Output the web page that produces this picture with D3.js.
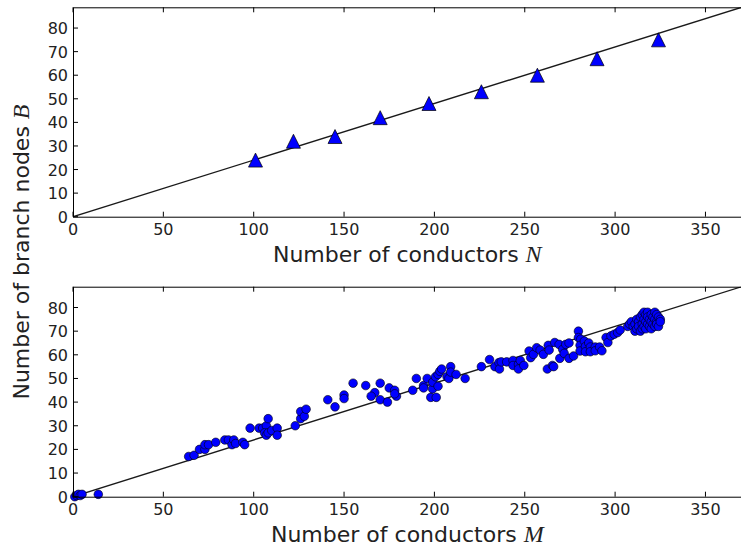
<!DOCTYPE html>
<html><head><meta charset="utf-8">
<script src="https://cdn.jsdelivr.net/npm/d3@7"></script>
<style>body{margin:0;background:#fff}svg{display:block}</style>
</head><body>
<svg id="c" width="741" height="548"></svg>
<script>
// ---- data ----
const topN = [101, 122, 145, 170, 197, 226, 257, 290, 324];
const topB = [24, 32, 34, 42, 48, 53, 60, 67, 75];

const botM = [1,2,3,4,5,14,
 64,67,70,73,73,75,79,84,86,88,89,90,94,95,
 98,103,105,107,108,106,107,108,110,113,113,
 123,126,126,128,129,
 141,145,150,150,155,162,167,165,170,170,174,175,178,179,178,
 188,190,194,194,196,198,201,199,199,200.6,202,202,203,204,207,208,209,209,212,217,
 226,230.5,233.5,235.7,236,237,240,243.5,243.5,246.5,246.5,247.5,249.5,252.4,253.3,254.8,256.6,258.5,260.3,262.5,265.3,266,263,263.5,266.6,269,271,272.7,274.5,269.4,271.8,274.5,277,279.7,279.7,281,280.6,280.6,283,283.6,283.6,285.4,286.3,286.3,289,289,291.4,292.7,295,296,297.7,299.5,301.4,302.8,
 307,308,309,310,311,311,312,312,313,313,314,314,315,315,315,316,316,316,317,317,317,318,318,318,319,319,320,320,320,321,321,322,322,322,323,323,323,324,324,325,325];
const botB = [0,0.5,1,0.5,1,1,
 17,17.5,20,20,22,22,23,24,24,22,24,22.5,23,22,
 29,29,29,30,33,27,26,27,28,29,26,
 30,33,36,34,37,
 41,38,43,41.5,48,47,44,42.5,48,41,40,46,45,42.5,43.5,
 45,50,47,46,50,42,42,45.6,48.4,50.7,46.7,51.7,53,54,50.7,50,55,52.7,51.7,50,
 55,58,55,56.7,54,57,57,57.6,55.5,56,54,57.6,55.5,61.6,58.8,60.2,63,62,60.2,54,55.5,55,64,62,65.2,64.4,62.3,64.4,65,58.5,60.6,58.5,59.5,70,67.3,66.6,64,61.6,65.8,63.5,61.3,65,63.3,61.3,63.3,61.7,63.3,61.7,67.3,65.2,68,68.7,69.4,70.5,
 72,73,74,72,73,70,71,75,74,72,76,70,77,73,71,78,75,72,77,74,71,78,76,73,75,72,77,74,71,76,73,78,75,72,77,74,73,76,72,75,74];

const xTicks = [0, 50, 100, 150, 200, 250, 300, 350];
const yTicks = [0, 10, 20, 30, 40, 50, 60, 70, 80];
const xMax = 370, yMax = 88.8, slope = 0.24;

// ---- drawing ----
const svg = d3.select("#c");
const L = 73, R = 741.6;
const x = d3.scaleLinear().domain([0, xMax]).range([L, R]);
const tf = "'DejaVu Sans', sans-serif";

function panel(top, bottom, pts, marker, labelVar) {
  const y = d3.scaleLinear().domain([0, yMax]).range([bottom, top]);
  const g = svg.append("g");
  const id = "clip" + Math.round(top);
  svg.append("clipPath").attr("id", id).append("rect")
    .attr("x", L).attr("y", top).attr("width", R - L).attr("height", bottom - top);

  g.append("line").attr("clip-path", `url(#${id})`)
    .attr("x1", x(0)).attr("y1", y(0)).attr("x2", x(xMax)).attr("y2", y(slope * xMax))
    .attr("stroke", "#1a1a1a").attr("stroke-width", 1.4);

  const mg = g.append("g");
  if (marker === "tri") {
    mg.selectAll("path").data(pts).enter().append("path")
      .attr("d", "M0,-7L7,7L-7,7Z")
      .attr("transform", d => `translate(${x(d[0])},${y(d[1])})`)
      .attr("fill", "#0000ff").attr("stroke", "#000").attr("stroke-width", 0.7);
  } else {
    mg.selectAll("circle").data(pts).enter().append("circle")
      .attr("cx", d => x(d[0])).attr("cy", d => y(d[1])).attr("r", 4.3)
      .attr("fill", "#0000ff").attr("stroke", "#000").attr("stroke-width", 0.6);
  }

  const ax = g.append("g").attr("fill", "none").attr("stroke", "#000").attr("stroke-width", 1);
  ax.append("rect").attr("x", L + 0.5).attr("y", top + 0.5).attr("width", R - L).attr("height", bottom - top);
  xTicks.forEach(t => {
    ax.append("line").attr("x1", x(t)).attr("x2", x(t)).attr("y1", bottom).attr("y2", bottom - 5);
    ax.append("line").attr("x1", x(t)).attr("x2", x(t)).attr("y1", top).attr("y2", top + 5);
  });
  yTicks.forEach(t => {
    ax.append("line").attr("x1", L).attr("x2", L + 5).attr("y1", y(t)).attr("y2", y(t));
  });
  g.selectAll(".xt").data(xTicks).enter().append("text")
    .attr("x", d => x(d)).attr("y", bottom + 18).attr("text-anchor", "middle")
    .attr("font-family", tf).attr("font-size", 16).attr("fill", "#222").text(d => d);
  g.selectAll(".yt").data(yTicks).enter().append("text")
    .attr("x", L - 5).attr("y", d => y(d) + 6).attr("text-anchor", "end")
    .attr("font-family", tf).attr("font-size", 16).attr("fill", "#222").text(d => d);

  const lab = g.append("text").attr("x", (L + R) / 2).attr("y", bottom + 45.5)
    .attr("text-anchor", "middle").attr("font-family", tf).attr("font-size", 22).attr("fill", "#222");
  lab.append("tspan").text("Number of conductors ");
  lab.append("tspan").attr("font-family", "'Liberation Serif', serif").attr("font-style", "italic").attr("font-size", 24).text(labelVar);
}

panel(7.3, 216.7, topN.map((v, i) => [v, topB[i]]), "tri", "N");
panel(286.7, 496.7, botM.map((v, i) => [v, botB[i]]), "dot", "M");

const yl = svg.append("text").attr("transform", "translate(29,252) rotate(-90)")
  .attr("text-anchor", "middle").attr("font-family", tf)
  .attr("font-size", 22).attr("fill", "#222");
yl.append("tspan").text("Number of branch nodes ");
yl.append("tspan").attr("font-family", "'Liberation Serif', serif").attr("font-style", "italic").attr("font-size", 24).text("B");
</script>
</body></html>
